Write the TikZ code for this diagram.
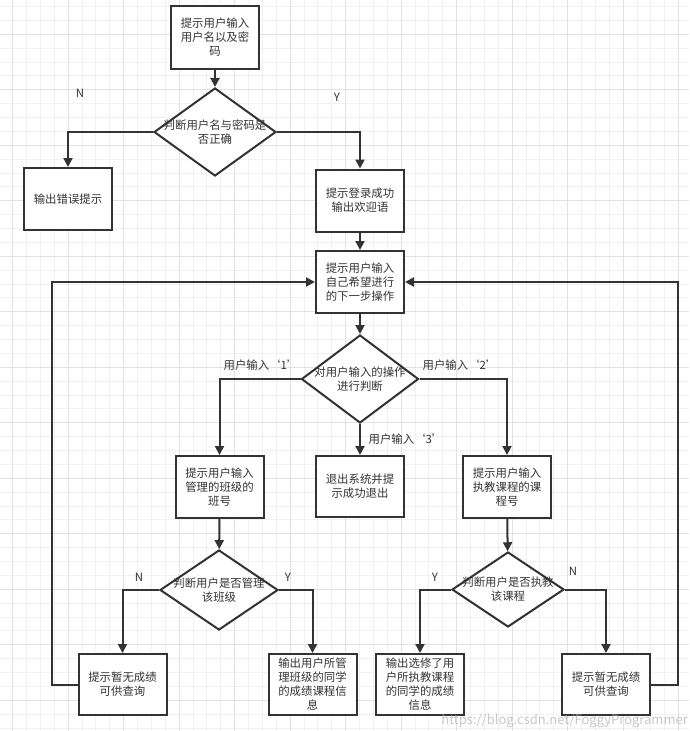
\documentclass[tikz,border=0pt]{standalone}
\usepackage{fontspec}
\setmainfont{Noto Sans CJK SC}
\usetikzlibrary{arrows.meta,shapes.geometric}
\definecolor{ink}{RGB}{51,51,51}
\definecolor{gridminor}{RGB}{241,241,241}
\definecolor{gridmajor}{RGB}{226,226,226}

\begin{document}
\begin{tikzpicture}[x=1pt,y=-1pt,
  txt/.style={font=\fontsize{11.4}{14}\selectfont, text=ink},
  box/.style={txt, draw=ink, line width=2pt, fill=white, minimum width=88pt, minimum height=62pt, align=center, inner sep=2pt},
  decide/.style={draw=ink, line width=2pt, fill=white, shape=diamond, inner sep=0pt},
  arr/.style={draw=ink, line width=2pt, -{Triangle[length=9pt,width=9pt]}},
  back/.style={draw=ink, line width=2pt, -{Triangle[length=9pt,width=9pt]}, rounded corners=0pt}]

% background and grid
\useasboundingbox (0,0) rectangle (689,731);
\fill[white] (0,0) rectangle (689,731);
\foreach \k in {0,...,48} {
  \pgfmathsetmacro\gx{12.7+13.875*\k}
  \draw[gridminor, line width=1pt] (\gx,0) -- (\gx,731);
}
\foreach \k in {0,...,52} {
  \pgfmathsetmacro\gy{6.55+13.875*\k}
  \draw[gridminor, line width=1pt] (0,\gy) -- (689,\gy);
}
\foreach \k in {0,4,...,48} {
  \pgfmathsetmacro\gx{12.7+13.875*\k}
  \draw[gridmajor, line width=1pt] (\gx,0) -- (\gx,731);
}
\foreach \k in {2,6,...,50} {
  \pgfmathsetmacro\gy{6.55+13.875*\k}
  \draw[gridmajor, line width=1pt] (0,\gy) -- (689,\gy);
}

% login
\node[box, minimum height=63pt] (input) at (215,37.5) {提示用户输入\\用户名以及密\\码};
\node[decide, minimum width=122pt, minimum height=88pt,
  label={[txt, align=center]center:判断用户名与密码是\\否正确}] (check) at (215,132) {};
\node[box] (error) at (68,199) {输出错误提示};
\node[box] (welcome) at (360,200.5) {提示登录成功\\输出欢迎语};

% menu
\node[box] (menu) at (360,282) {提示用户输入\\自己希望进行\\的下一步操作};
\node[decide, minimum width=117pt, minimum height=88pt,
  label={[txt, align=center]center:对用户输入的操作\\进行判断}] (choice) at (360,379) {};
\node[box] (askclass) at (219.5,487) {提示用户输入\\管理的班级的\\班号};
\node[box, minimum height=61pt] (quit) at (360,486.5) {退出系统并提\\示成功退出};
\node[box] (askcourse) at (507,487) {提示用户输入\\执教课程的课\\程号};

% class branch
\node[decide, minimum width=118pt, minimum height=80pt,
  label={[txt, align=center]center:判断用户是否管理\\该班级}] (isadmin) at (219,590) {};
\node[box, minimum height=61pt] (nogradeL) at (122.5,684.5) {提示暂无成绩\\可供查询};
\node[box, minimum height=61pt] (classgrades) at (312.5,684.5) {输出用户所管\\理班级的同学\\的成绩课程信\\息};

% course branch
\node[decide, minimum width=112pt, minimum height=75pt,
  label={[txt, align=center]center:判断用户是否执教\\该课程}] (isteacher) at (508,589.5) {};
\node[box, minimum height=61pt] (coursegrades) at (420,684.5) {输出选修了用\\户所执教课程\\的同学的成绩\\信息};
\node[box, minimum height=61pt] (nogradeR) at (606,684.5) {提示暂无成绩\\可供查询};

% connectors
\draw[arr] (input) -- (check);
\draw[arr] (check.west) -| (error.north);
\draw[arr] (check.east) -| (welcome.north);
\draw[arr] (welcome) -- (menu);
\draw[arr] (menu) -- (choice);
\draw[arr] (choice.west) -| (askclass.north);
\draw[arr] (choice.east) -| (askcourse.north);
\draw[arr] (choice.south) -- (quit.north);
\draw[arr] (askclass) -- (isadmin);
\draw[arr] (isadmin.west) -| (nogradeL.north);
\draw[arr] (isadmin.east) -| (classgrades.north);
\draw[arr] (askcourse) -- (isteacher);
\draw[arr] (isteacher.west) -| (coursegrades.north);
\draw[arr] (isteacher.east) -| (nogradeR.north);
\draw[back] (nogradeL.west) -- ++(-26,0) |- (menu.west);
\draw[back] (nogradeR.east) -- ++(27,0) |- (menu.east);

% branch labels
\node[txt] (n1) at (80,93) {N};
\node[txt] (y1) at (337,97) {Y};
\node[txt] (opt1) at (261,365) {用户输入‘1’};
\node[txt] (opt2) at (460,365) {用户输入‘2’};
\node[txt] (opt3) at (406,439) {用户输入‘3’};
\node[txt] (n2) at (139,577) {N};
\node[txt] (y2) at (288,577) {Y};
\node[txt] (y3) at (435,577) {Y};
\node[txt] (n3) at (573,571) {N};

\node[font=\fontsize{13}{15}\selectfont, text=black!30, opacity=0.7, anchor=east, inner sep=1pt] (mark) at (689,721) {https://blog.csdn.net/FoggyProgrammer};
\end{tikzpicture}
\end{document}
